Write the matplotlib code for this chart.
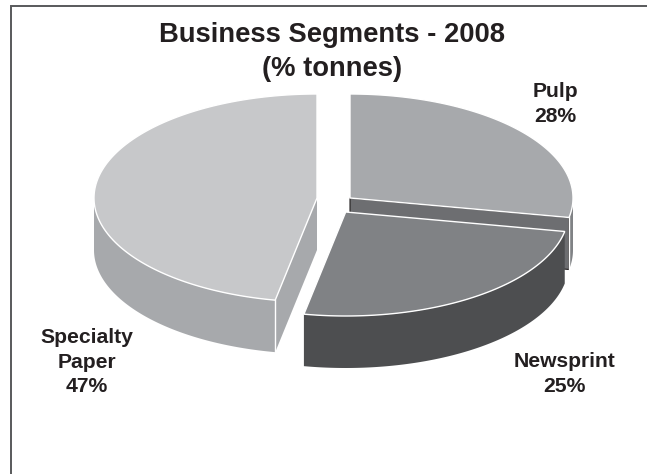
import numpy as np
import matplotlib
matplotlib.use("Agg")
import matplotlib.pyplot as plt
from matplotlib.lines import Line2D
from matplotlib.patches import Polygon

plt.rcParams["font.family"] = ["Liberation Sans", "DejaVu Sans"]

# Share of tonnes by business segment, clockwise from twelve o'clock
segments = ["Pulp", "Newsprint", "Specialty\nPaper"]
shares = [28, 25, 47]

top_colors = ["#a7a9ac", "#808285", "#c7c8ca"]
side_colors = ["#808285", "#4d4e50", "#a7a9ac"]
cut_colors = ["#6d6e71", "#4d4e50", "#a7a9ac"]
cut_edges = ["#231f20", "none", "none"]

# Pixel-based drawing frame
W, H = 647, 474
RX, RY, DEPTH = 223.0, 104.0, 52.0
apexes = [(350.0, 198.0), (345.7, 212.0), (317.0, 198.0)]
label_xy = [(555, 122), (564.5, 392), (87, 392.5)]
draw_order = [0, 2, 1]


def rim(cx, cy, a0, a1, n=160):
    t = np.radians(np.linspace(a0, a1, n))
    return np.column_stack([cx + RX * np.sin(t), cy - RY * np.cos(t)])


def draw_slice(ax, cx, cy, a0, a1, top, side, cut, cut_edge, z):
    """One extruded slice: walls first, then the top face with a white edge."""
    lo, hi = max(a0, 90), min(a1, 270)
    if lo < hi:
        edge = rim(cx, cy, lo, hi)
        wall = np.vstack([edge, edge[::-1] + [0, DEPTH]])
        ax.add_patch(Polygon(wall, closed=True, fc=side, ec="none", zorder=z))
    # A cut face shows when it turns towards the viewer
    for ang, visible in ((a1, 90 < a1 < 180), (a0, 180 < a0 < 270)):
        if visible:
            p = rim(cx, cy, ang, ang, 1)[0]
            face = np.array([(cx, cy), p, p + [0, DEPTH], (cx, cy + DEPTH)])
            ax.add_patch(Polygon(face, closed=True, fc=cut, ec=cut_edge, lw=0.8,
                                 zorder=z + 0.1))
            ax.add_line(Line2D([p[0], p[0]], [p[1], p[1] + DEPTH], color="white",
                               lw=1.0, zorder=z + 0.2))
    outline = np.vstack([[(cx, cy)], rim(cx, cy, a0, a1)])
    ax.add_patch(Polygon(outline, closed=True, fc=top, ec="white", lw=1.0,
                         joinstyle="miter", zorder=z + 0.5))


fig = plt.figure(figsize=(W / 100, H / 100), dpi=100, facecolor="white")
ax = fig.add_axes([0, 0, 1, 1])
ax.set_xlim(0, W)
ax.set_ylim(H, 0)
ax.axis("off")

# Frame: only the top and left rules
ax.add_line(Line2D([W, 10.7, 10.7], [5.7, 5.7, H], color="#58595b", lw=1.4,
                   solid_joinstyle="miter", zorder=0))

bounds = np.cumsum([0] + shares) * 3.6
for step, i in enumerate(draw_order):
    cx, cy = apexes[i]
    draw_slice(ax, cx, cy, bounds[i], bounds[i + 1], top_colors[i],
               side_colors[i], cut_colors[i], cut_edges[i], 1 + step)

ink = "#231f20"
ax.text(331.7, 41.7, "Business Segments - 2008", ha="center", va="baseline",
        fontsize=19.7, fontweight="bold", color=ink, zorder=10)
ax.text(331.7, 75.7, "(% tonnes)", ha="center", va="baseline",
        fontsize=19.7, fontweight="bold", color=ink, zorder=10)
for name, share, (x, y) in zip(segments, shares, label_xy):
    ax.text(x, y, f"{name}\n{share}%", ha="center", va="baseline", fontsize=15.2,
            fontweight="bold", color=ink, linespacing=1.39, zorder=10)

fig.savefig("out.png", dpi=100)
